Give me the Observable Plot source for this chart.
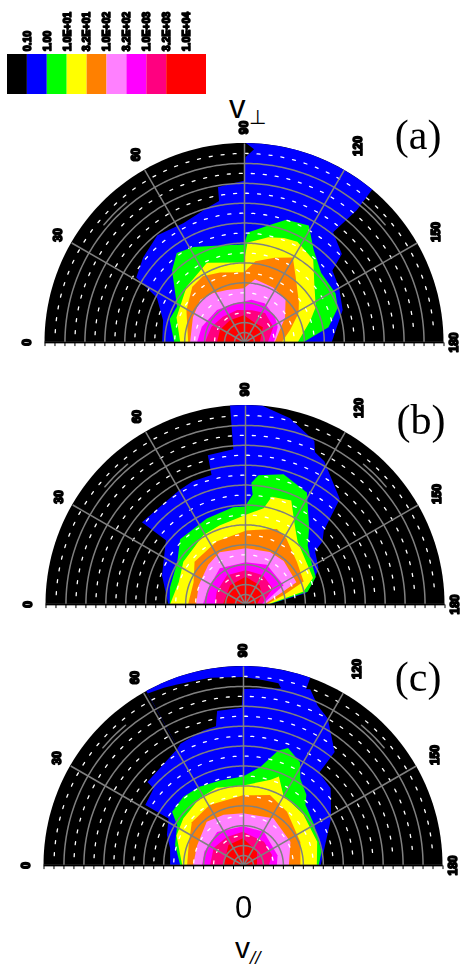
<!DOCTYPE html>
<html><head><meta charset="utf-8">
<script src="https://cdn.jsdelivr.net/npm/d3@7"></script>
<script src="https://cdn.jsdelivr.net/npm/@observablehq/plot@0.6"></script>
<style>
html,body{margin:0;padding:0;background:#fff}
#wrap{position:relative;width:461px;height:968px;overflow:hidden;font-family:"Liberation Sans",Arial,sans-serif}
#wrap svg{display:block;overflow:visible;filter:blur(.45px)}
.lab{position:absolute;color:#000;line-height:1;white-space:nowrap}
.lab sub{font-size:62%;vertical-align:-0.3em;line-height:0}
</style></head><body><div id="wrap"></div>
<script>
// Colour scale
const levelColors = ["#000000","#0000ff","#00ff00","#ffff00","#ff8000","#ff80ff","#ff00ff","#ff0080","#ff0000"];
const legendLabels = ["0.10","1.00","1.0E+01","3.2E+01","1.0E+02","3.2E+02","1.0E+03","3.2E+03","1.0E+04"];
const spokeLabels = ["0","30","60","90","120","150","180"];
const spokeLabelAngles = [0,30,60,90,120,150,180];
const spokeLabelRadii = [1.09,1.08,1.09,1.08,1.14,1.11,1.05];
const ringRadii = [.05,.1,.2,.3,.4,.5,.6,.7,.8,.9];
const spokeAngles = [0,30,60,90,120,150,180];

// Contours: [pitch angle in degrees, speed relative to the outer ring]
const aBlue = [[0,.41],[15,.42],[27,.49],[31,.63],[40,.66],[51,.69],[63,.67],[75,.70],[80,.72],[80.5,.79],[90,.81],[90.5,.93],[93,.97],[90.5,1],[95,1],[100,1],[105,1],[110,1],[115,1],[120,1],[125,1],[130,1],[130.5,.87],[129,.71],[138,.66],[141,.57],[150,.55],[162,.52],[180,.44]];
const aGreen = [[0,.35],[17,.39],[28,.38],[45,.51],[53,.56],[62,.54],[76,.50],[90,.49],[92,.55],[102,.60],[109,.65],[119,.67],[127,.58],[138,.52],[152,.52],[160,.50],[170,.43],[180,.30]];
const aYellow = [[0,.32],[20,.36],[44,.40],[65,.44],[90,.40],[92,.50],[103,.54],[111,.56],[118,.57],[130,.54],[140,.46],[154,.40],[162,.35],[180,.27]];
const aOrange = [[0,.28],[29,.33],[47,.38],[58,.39],[71,.37],[90,.35],[98,.41],[110,.45],[120,.49],[128,.42],[144,.34],[152,.31],[165,.24],[180,.19]];
const aPink = [[0,.27],[26,.285],[44,.305],[58,.29],[72,.275],[90,.27],[100,.32],[118,.31],[134,.30],[149,.24],[165,.18],[180,.155]];
const aMagenta = [[0,.235],[20,.225],[50,.21],[74,.20],[100,.215],[118,.22],[141,.20],[156,.185],[180,.15]];
const aCrimson = [[0,.195],[25,.18],[50,.165],[78,.165],[104,.165],[126,.18],[153,.165],[180,.12]];
const aRed = [[0,.135],[27,.135],[57,.13],[90,.135],[120,.11],[142,.12],[180,.08]];

const bBlue = [[0,.385],[19,.44],[39,.51],[38.5,.66],[60,.66],[67,.67],[75.5,.67],[76,.77],[85.7,.78],[85.7,1],[90,1],[95,1],[103.6,.96],[113,.89],[114.7,.84],[119,.82],[132,.71],[137,.54],[141,.50],[143,.44],[154,.41],[162,.36],[170,.31],[180,.125]];
const bGreen = [[0,.377],[12,.385],[32,.40],[45,.46],[66,.47],[83,.49],[90,.49],[94,.55],[93,.61],[96,.65],[106.5,.68],[119,.64],[130,.50],[137,.43],[145,.40],[159,.38],[169,.32],[180,.125]];
const bYellow = [[0,.375],[18.5,.35],[34.5,.375],[59,.405],[72,.415],[91,.45],[101,.49],[104,.555],[114,.57],[122,.47],[130,.41],[148,.37],[159,.365],[168,.30],[180,.12]];
const bOrange = [[0,.285],[23,.28],[40,.33],[65.5,.345],[91,.37],[113,.41],[122,.39],[141,.335],[159,.315],[167,.20],[180,.11]];
const bPink = [[0,.245],[22,.25],[47,.27],[64,.29],[91,.28],[115.5,.29],[132,.29],[157,.28],[162,.20],[180,.10]];
const bMagenta = [[0,.21],[23,.20],[55,.22],[91,.21],[119,.225],[154,.215],[180,.09]];
const bCrimson = [[0,.15],[23.5,.155],[58,.17],[91,.17],[122,.17],[151,.16],[180,.085]];
const bRed = [[0,.11],[52,.12],[91,.137],[128,.12],[152,.095],[180,.06]];

const cCap = [[61,1],[66,1],[71,1],[76,1],[81,1],[86,1],[91,1],[96,1],[101,1],[106,1],[109.7,1]];
const cCapBlack = [[61,.985],[66,.975],[70,.965],[80,.955],[90,.945],[96,.935],[101,.93],[102,.91]];
const cBlue = [[0,.365],[13,.375],[21.5,.41],[32,.44],[31.6,.575],[40.6,.59],[41,.635],[60.5,.67],[62.7,.685],[73.8,.705],[79,.71],[79.8,.75],[80.5,.785],[89.5,.79],[90,.885],[104,.915],[110.9,.945],[115,.885],[120,.85],[129,.73],[129.5,.60],[138.7,.585],[152,.50],[166,.425],[180,.39]];
const cGreen = [[0,.315],[16.5,.355],[31,.385],[37,.445],[49,.455],[61,.45],[75,.44],[90,.445],[100,.50],[107,.60],[111,.63],[119,.59],[123.5,.52],[132,.475],[136,.435],[150.5,.41],[170,.40],[180,.38]];
const cYellow = [[0,.305],[24,.365],[38,.38],[57,.40],[71,.41],[90,.40],[108,.45],[112,.48],[120,.405],[140,.395],[162.5,.39],[180,.37]];
const cOrange = [[0,.28],[20,.29],[40,.335],[61,.345],[90,.35],[111,.377],[129.5,.347],[158,.31],[180,.288]];
const cPink = [[0,.25],[23,.25],[50,.283],[69,.27],[90,.26],[123,.28],[154,.265],[180,.23]];
const cMagenta = [[0,.205],[19,.205],[52,.21],[90,.195],[122,.197],[164,.18],[180,.17]];
const cCrimson = [[0,.165],[30,.17],[60,.163],[90,.167],[132,.157],[161,.154],[180,.13]];
const cRed = [[0,.097],[54,.124],[90,.134],[136,.097],[180,.07]];

const halfDisc = d3.range(0,181,2).map(t=>[t,1]);
const rad = d=>d*Math.PI/180;
const px = ([t,r])=>-r*Math.cos(rad(t));
const py = ([t,r])=>r*Math.sin(rad(t));
const fan = (rows,color)=>Plot.area(rows,{x1:()=>0,y1:()=>0,x2:px,y2:py,fill:color,stroke:"none"});
const arc = (r,t0=0,t1=180)=>d3.range(t0,t1+.01,1).map(t=>[t,r]);

function panel(layers,cx,height,extra=[]){
  const marks = [fan(halfDisc,levelColors[0])];
  for(const [rows,color] of layers) marks.push(fan(rows,color));
  for(const r of [.95,.85,.75,.65,.55,.45,.35,.25,.15])
    marks.push(Plot.line(arc(r,3,177),{x:px,y:py,stroke:"#fff",strokeWidth:1.3,strokeDasharray:"3 9"}));
  for(const r of ringRadii)
    marks.push(Plot.line(arc(r),{x:px,y:py,stroke:"#808080",strokeWidth:1.5}));
  marks.push(Plot.link(spokeAngles,{x1:()=>0,y1:()=>0,x2:t=>px([t,1]),y2:t=>py([t,1]),stroke:"#808080",strokeWidth:1.5}));
  for(const t of [45,135])
    marks.push(Plot.line(arc(.92,t-5,t+5),{x:px,y:py,stroke:"#808080",strokeWidth:1.5}));
  marks.push(Plot.ruleY([0],{x1:-1,x2:1,stroke:"#000",strokeWidth:1.5}));
  marks.push(Plot.link(d3.range(-20,21),{x1:d=>d*.05,x2:d=>d*.05,y1:()=>0,y2:()=>-.018,stroke:"#000",strokeWidth:1}));
  marks.push(Plot.text(spokeLabels,{
    x:(d,i)=>px([spokeLabelAngles[i],spokeLabelRadii[i]]),
    y:(d,i)=>py([spokeLabelAngles[i],spokeLabelRadii[i]]),
    text:d=>d,rotate:-90,fontSize:12,fontWeight:"bold",fill:"#000",stroke:"#000",strokeWidth:1.6,
    fontFamily:"Liberation Sans"}));
  marks.push(...extra);
  return Plot.plot({width:461,height,margin:0,
    x:{domain:[-1,1],range:[cx-199.5,cx+199.5],axis:null},
    y:{domain:[0,1],range:[224,25],axis:null,clamp:false},
    style:{background:"transparent",overflow:"visible"},
    marks});
}
const tag = (s,x,y)=>Plot.text([s],{x:()=>x,y:()=>y,text:d=>d,fontSize:42,fontFamily:"Liberation Serif",fill:"#000"});

const wrap = document.getElementById("wrap");
wrap.append(Plot.plot({width:461,height:118,margin:0,
  x:{domain:[0,10],range:[7,206],axis:null},
  y:{domain:[0,1],range:[94,54],axis:null},
  marks:[
    Plot.rectY(levelColors,{x1:(d,i)=>i,x2:(d,i)=>i===8?10:i+1,y1:()=>0,y2:()=>1,fill:d=>d,inset:0}),
    Plot.text(legendLabels,{x:(d,i)=>i+1,y:()=>1.08,text:d=>d,rotate:-90,textAnchor:"start",fontSize:10.5,fontWeight:"bold",fill:"#000",stroke:"#000",strokeWidth:1.5,fontFamily:"Liberation Sans"})
  ]}));
wrap.append(panel([[aBlue,levelColors[1]],[aGreen,levelColors[2]],[aYellow,levelColors[3]],[aOrange,levelColors[4]],[aPink,levelColors[5]],[aMagenta,levelColors[6]],[aCrimson,levelColors[7]],[aRed,levelColors[8]]],244,262,[tag("(a)",.87,1.04)]));
wrap.append(panel([[bBlue,levelColors[1]],[bGreen,levelColors[2]],[bYellow,levelColors[3]],[bOrange,levelColors[4]],[bPink,levelColors[5]],[bMagenta,levelColors[6]],[bCrimson,levelColors[7]],[bRed,levelColors[8]]],245,261,[tag("(b)",.88,.925)]));
wrap.append(panel([[cCap,levelColors[1]],[cCapBlack,levelColors[0]],[cBlue,levelColors[1]],[cGreen,levelColors[2]],[cYellow,levelColors[3]],[cOrange,levelColors[4]],[cPink,levelColors[5]],[cMagenta,levelColors[6]],[cCrimson,levelColors[7]],[cRed,levelColors[8]]],243,327,[
  tag("(c)",.875,.945),
  Plot.text(["0"],{x:()=>0,y:()=>-.215,text:d=>d,fontSize:31,fontFamily:"Liberation Sans",fill:"#000"})
]));
function label(html,left,top,size){const e=document.createElement("div");e.className="lab";e.innerHTML=html;e.style.left=left+"px";e.style.top=top+"px";e.style.fontSize=size+"px";wrap.append(e);}
label('v<sub style="margin-left:3px">⊥</sub>',229,90,33);
label("v<sub><i>//</i></sub>",235,933,30);
</script></body></html>
